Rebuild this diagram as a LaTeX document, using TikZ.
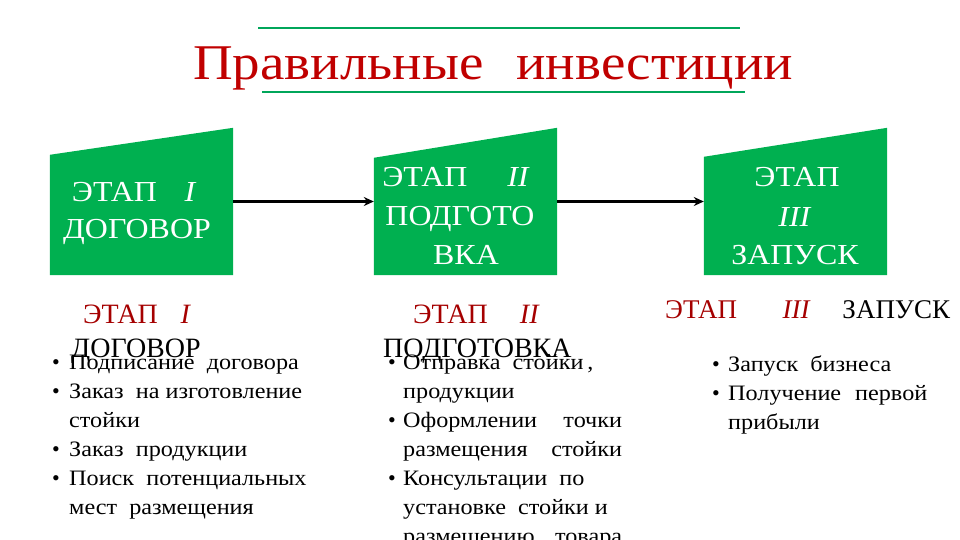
\documentclass[tikz,border=0pt]{standalone}
\usepackage{fontspec}
\setmainfont{Liberation Serif}
\usetikzlibrary{calc,arrows.meta}
\definecolor{boxgreen}{RGB}{0,176,80}
\definecolor{linegreen}{RGB}{0,166,90}
\definecolor{titlered}{RGB}{192,0,0}
\definecolor{headred}{RGB}{165,0,0}
\newcommand{\wx}[1]{\scalebox{1.1}[1]{#1}}
\newcommand{\romnum}[2]{\makebox[#1em]{\textit{#2}}}
\begin{document}
\begin{tikzpicture}[x=1pt,y=-1pt,
  stagebox/.style={minimum width=183pt,minimum height=147pt,inner sep=0pt},
  stagefill/.style={fill=boxgreen},
  boxtxt/.style={text=white,font=\fontsize{29}{36}\selectfont,anchor=base,inner sep=0pt},
  head/.style={font=\fontsize{28}{34}\selectfont,anchor=base west,inner sep=0pt},
  item/.style={font=\fontsize{22}{29}\selectfont,anchor=base west,inner sep=0pt},
  flow/.style={line width=3pt,-{Stealth[length=10pt,width=9pt]}},
  rule/.style={draw=linegreen,line width=2.5pt}]
\useasboundingbox (0,0) rectangle (960,540);
\clip (0,0) rectangle (960,540);

% title
\draw[rule] (258,28) -- (740,28);
\draw[rule] (262,92) -- (745,92);
\node[font=\fontsize{50}{60}\selectfont,text=titlered,anchor=base west,inner sep=0pt] (title) at (193,80) {\wx{Правильные\hspace{30pt}инвестиции}};

% stage boxes
\node[stagebox] (b1) at (141.5,201.5) {};
\node[stagebox] (b2) at (465.5,201.5) {};
\node[stagebox] (b3) at (795.5,201.5) {};
\fill[stagefill] (b1.south west) -- (b1.south east) -- (b1.north east) -- ($(b1.north west)+(0,27)$) -- cycle;
\fill[stagefill] (b2.south west) -- (b2.south east) -- (b2.north east) -- ($(b2.north west)+(0,30)$) -- cycle;
\fill[stagefill] (b3.south west) -- (b3.south east) -- (b3.north east) -- ($(b3.north west)+(0,29)$) -- cycle;

\node[boxtxt] (t1a) at (140,201) {\wx{ЭТАП\ \ \romnum{1.1}{I}}};
\node[boxtxt] (t1b) at (137,238) {\wx{ДОГОВОР}};
\node[boxtxt] (t2a) at (468,186) {\wx{ЭТАП\ \ \romnum{2.2}{II}}};
\node[boxtxt] (t2b) at (460,225) {\wx{ПОДГОТО}};
\node[boxtxt] (t2c) at (466,264) {\wx{ВКА}};
\node[boxtxt] (t3a) at (797,186) {\wx{ЭТАП}};
\node[boxtxt] (t3b) at (795,226) {\wx{\romnum{3}{III}}};
\node[boxtxt] (t3c) at (795,264) {\wx{ЗАПУСК}};

\draw[flow] (b1.east) -- (b2.west);
\draw[flow] (b2.east) -- (b3.west);

% column 1
\node[head,text=headred] (h1a) at (83,323) {ЭТАП\ \ \romnum{1}{I}};
\node[head] (h1b) at (71,357) {ДОГОВОР};
\node[item] (p1d1) at (52,369) {•};
\node[item] (p1l1) at (69,369) {\wx{Подписание\ \ договора}};
\node[item] (p1d2) at (52,398) {•};
\node[item] (p1l2) at (69,398) {\wx{Заказ\ \ на изготовление}};
\node[item] (p1l3) at (69,427) {\wx{стойки}};
\node[item] (p1d4) at (52,456) {•};
\node[item] (p1l4) at (69,456) {\wx{Заказ\ \ продукции}};
\node[item] (p1d5) at (52,485) {•};
\node[item] (p1l5) at (69,485) {\wx{Поиск\ \ потенциальных}};
\node[item] (p1l6) at (69,514) {\wx{мест\ \ размещения}};

% column 2
\node[head,text=headred] (h2a) at (413,323) {ЭТАП\ \ \romnum{2}{II}};
\node[head] (h2b) at (383,357) {ПОДГОТОВКА};
\node[item] (p2d1) at (388,369) {•};
\node[item] (p2l1) at (403,369) {\wx{Отправка\ \ стойки\,,}};
\node[item] (p2l2) at (403,398) {\wx{продукции}};
\node[item] (p2d3) at (388,427) {•};
\node[item] (p2l3) at (403,427) {\wx{\makebox[199pt][l]{Оформлении\hfill точки}}};
\node[item] (p2l4) at (403,456) {\wx{\makebox[199pt][l]{размещения\hfill стойки}}};
\node[item] (p2d5) at (388,485) {•};
\node[item] (p2l5) at (403,485) {\wx{Консультации\ \ по}};
\node[item] (p2l6) at (403,514) {\wx{установке\ \ стойки и}};
\node[item] (p2l7) at (403,543) {\wx{\makebox[199pt][l]{размещению\hfill товара}}};

% column 3
\node[head,font=\fontsize{27}{32}\selectfont] (h3) at (665,318) {\textcolor{headred}{ЭТАП\ \ \romnum{3.4}{III}}ЗАПУСК};
\node[item] (p3d1) at (712,371) {•};
\node[item] (p3l1) at (728,371) {\wx{Запуск\ \ бизнеса}};
\node[item] (p3d2) at (712,400) {•};
\node[item] (p3l2) at (728,400) {\wx{\makebox[181pt][l]{Получение\hfill первой}}};
\node[item] (p3l3) at (728,429) {\wx{прибыли}};
\end{tikzpicture}
\end{document}
